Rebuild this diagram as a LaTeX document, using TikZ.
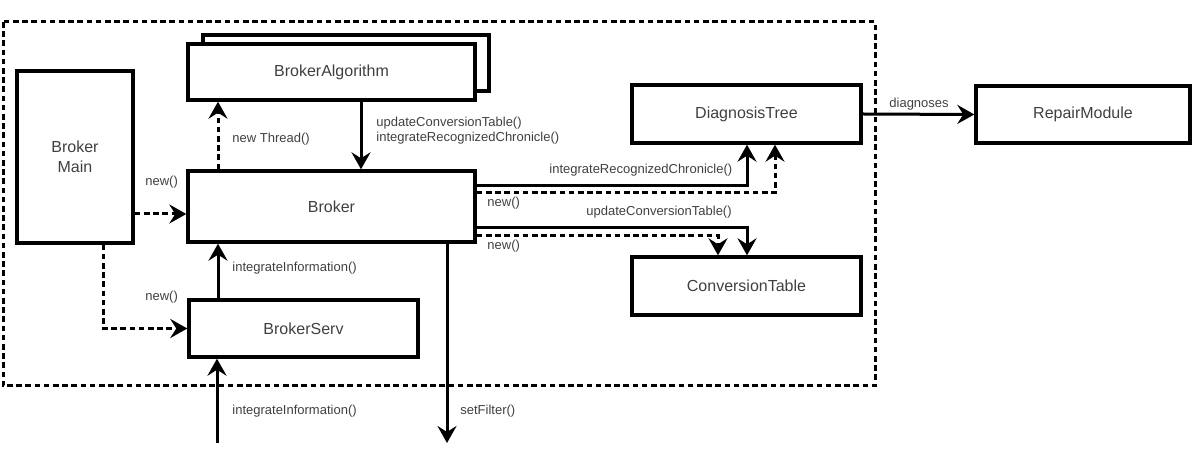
\documentclass[tikz,border=0pt]{standalone}
\usepackage{fontspec}
\setmainfont{Liberation Sans}
\usetikzlibrary{arrows.meta}

\tikzset{
    box/.style={draw, line width=1.7pt, inner sep=0pt, text=black!75, font=\fontsize{8}{10}\selectfont},
    lbl/.style={anchor=west, inner sep=0pt, text=black!75, font=\fontsize{6.5}{7.6}\selectfont},
    arr/.style={line width=1.5pt, -{Stealth[length=8.5pt, width=9.5pt, inset=3pt]}},
    darr/.style={arr, dash pattern=on 2.8pt off 1.8pt},
}

\begin{document}
\begin{tikzpicture}[x=0.5pt, y=-0.5pt]
        \useasboundingbox (0,0) rectangle (1198,458);
        \draw[line width=1.5pt, dash pattern=on 2.8pt off 1.8pt] (3,22) rectangle (875,386);
        \draw[line width=1.7pt, fill=white] (203,35) rectangle (489,91);
        \node[box, fill=white, minimum width=143.5pt, minimum height=28pt] (algo) at (331.5,72) {BrokerAlgorithm};
        \node[box, minimum width=58pt, minimum height=86pt, align=center] (main) at (75,157) {Broker\\Main};
        \node[box, minimum width=143.5pt, minimum height=35.5pt] (broker) at (331.5,206.5) {Broker};
        \node[box, minimum width=114.5pt, minimum height=28.5pt] (serv) at (303.5,328.5) {BrokerServ};
        \node[box, minimum width=114.5pt, minimum height=29pt] (diag) at (746.5,114) {DiagnosisTree};
        \node[box, minimum width=114.5pt, minimum height=29pt] (conv) at (746.5,286) {ConversionTable};
        \node[box, minimum width=107pt, minimum height=28.5pt] (repair) at (1083,114.5) {RepairModule};
        \coordinate (t1) at (218,0);
        \coordinate (t2) at (361,0);
        \coordinate (m1) at (0,214);
        \coordinate (m2) at (103,0);
        \coordinate (d1) at (747,186);
        \coordinate (d2) at (775,193);
        \coordinate (c1) at (747,228);
        \coordinate (c2) at (718,236);
        \coordinate (inflow) at (217,443);
        \coordinate (outflow) at (447,443);
        \draw[darr] (broker.north -| t1) -- (algo.south -| t1);
        \draw[arr] (algo.south -| t2) -- (broker.north -| t2);
        \draw[darr] (main.east |- m1) -- (broker.west |- m1);
        \draw[darr] (main.south -| m2) |- (serv.west);
        \draw[arr] (serv.north -| t1) -- (broker.south -| t1);
        \draw[arr] (inflow) -- (serv.south -| inflow);
        \draw[arr] (broker.south -| outflow) -- (outflow);
        \draw[arr] (broker.east |- d1) -| (diag.south -| d1);
        \draw[darr] (broker.east |- d2) -| (diag.south -| d2);
        \draw[arr] (broker.east |- c1) -| (conv.north -| c1);
        \draw[darr] (broker.east |- c2) -| (conv.north -| c2);
        \draw[arr] (diag.east) -- (repair.west);
        \node[lbl] (lthread) at (232,139) {new Thread()};
        \node[lbl, align=left] (lupdate) at (376,131) {updateConversionTable()\\integrateRecognizedChronicle()};
        \node[lbl] (lnew1) at (145,182) {new()};
        \node[lbl] (lnew2) at (145,297) {new()};
        \node[lbl] (linfo1) at (232,268) {integrateInformation()};
        \node[lbl] (linfo2) at (232,411) {integrateInformation()};
        \node[lbl] (lfilter) at (460,411) {setFilter()};
        \node[lbl] (lchron) at (549,170) {integrateRecognizedChronicle()};
        \node[lbl] (lnew3) at (487,203) {new()};
        \node[lbl] (lconv) at (586,212) {updateConversionTable()};
        \node[lbl] (lnew4) at (487,246) {new()};
        \node[lbl] (ldiag) at (889,104) {diagnoses};
\end{tikzpicture}
\end{document}
